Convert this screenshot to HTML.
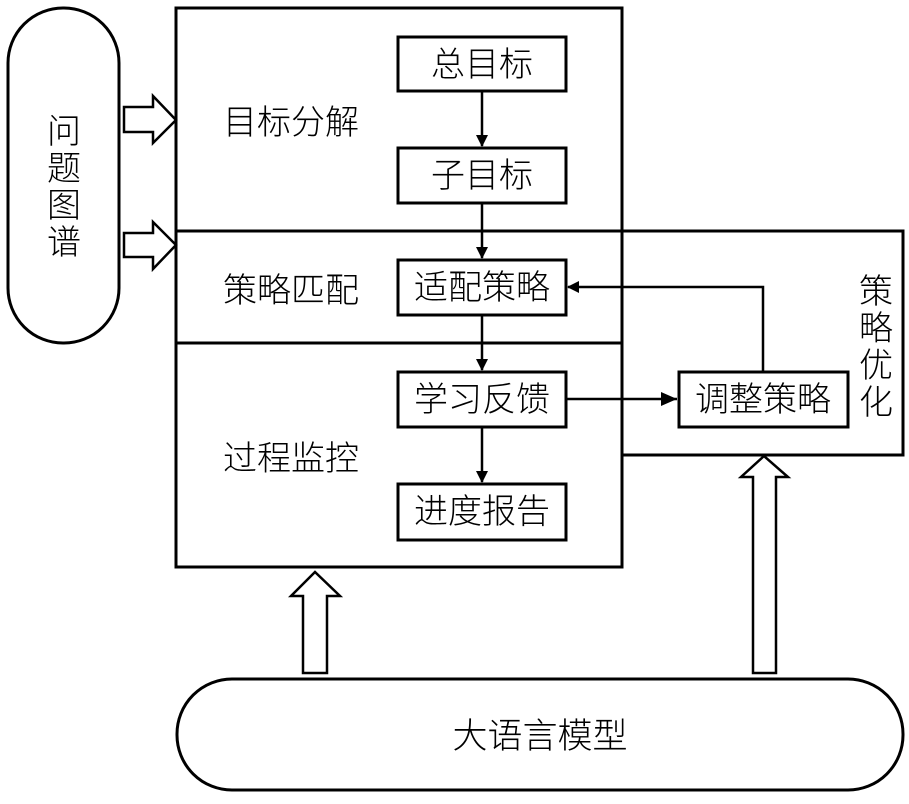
<!DOCTYPE html>
<html><head><meta charset="utf-8"><style>body{margin:0;background:#fff}</style></head><body>
<svg width="909" height="799" xmlns="http://www.w3.org/2000/svg" font-family="Liberation Sans, Noto Sans CJK SC, sans-serif">
<defs><marker id="a" markerWidth="12" markerHeight="12" refX="11" refY="6" orient="auto" markerUnits="userSpaceOnUse"><path d="M0,0 L12,6 L0,12 z" fill="#000"/></marker>
<marker id="b" markerWidth="16" markerHeight="14" refX="16" refY="7" orient="auto" markerUnits="userSpaceOnUse"><path d="M0,0 L16,7 L0,14 z" fill="#000"/></marker></defs>
<g fill="none" stroke="#000" stroke-width="3">
<rect x="8" y="8" width="111" height="335" rx="55" ry="55"/>
<rect x="176" y="8" width="446" height="559"/>
<line x1="176" y1="231" x2="622" y2="231"/>
<line x1="176" y1="343" x2="622" y2="343"/>
<polyline points="622,231 903,231 903,455 622,455"/>
<rect x="398" y="37" width="168" height="54"/>
<rect x="398" y="148" width="168" height="55"/>
<rect x="398" y="260" width="168" height="55"/>
<rect x="398" y="372" width="168" height="55"/>
<rect x="398" y="484" width="168" height="56"/>
<rect x="679" y="372" width="169" height="55"/>
<rect x="177" y="679" width="726" height="111" rx="55" ry="55"/>
<path d="M124,107 H153 V96 L176,120 L153,143 V132 H124 Z" stroke-width="2.5"/>
<path d="M124,233 H153 V222 L176,245 L153,269 V257 H124 Z" stroke-width="2.5"/>
<path d="M303,673 V596 H291 L315,572 L340,596 H327 V673 Z" stroke-width="2.5"/>
<path d="M753,673 V477 H741 L764,456 L788,477 H776 V673 Z" stroke-width="2.5"/>
</g>
<g stroke="#000" stroke-width="2.5" fill="none">
<line x1="482" y1="91" x2="482" y2="146" marker-end="url(#a)"/>
<line x1="482" y1="203" x2="482" y2="258" marker-end="url(#a)"/>
<line x1="482" y1="315" x2="482" y2="370" marker-end="url(#a)"/>
<line x1="482" y1="427" x2="482" y2="482" marker-end="url(#a)"/>
<line x1="566" y1="399" x2="677" y2="399" marker-end="url(#b)"/>
<polyline points="763,372 763,287 568,287" marker-end="url(#a)"/>
</g>
<g font-size="34" font-weight="300" text-anchor="middle" fill="#000">
<text x="482" y="76">总目标</text>
<text x="482" y="187">子目标</text>
<text x="482" y="299">适配策略</text>
<text x="482" y="411">学习反馈</text>
<text x="482" y="523">进度报告</text>
<text x="763" y="411">调整策略</text>
<text x="291" y="134">目标分解</text>
<text x="291" y="302">策略匹配</text>
<text x="291" y="470">过程监控</text>
<text x="540" y="748" font-size="35">大语言模型</text>
<text x="64" y="143">问</text><text x="64" y="180">题</text><text x="64" y="217">图</text><text x="64" y="254">谱</text>
<text x="876" y="303">策</text><text x="876" y="340">略</text><text x="876" y="377">优</text><text x="876" y="414">化</text>
</g>
</svg>
</body></html>
